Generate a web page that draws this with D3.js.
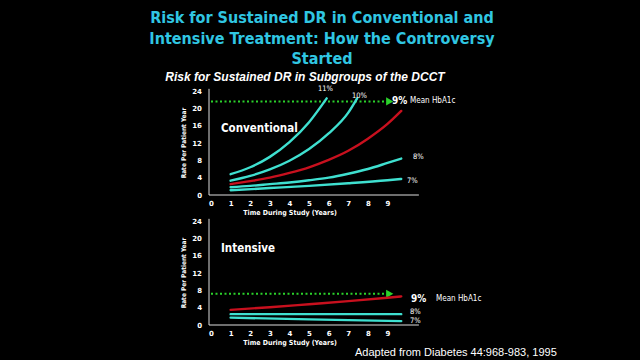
<!DOCTYPE html>
<html>
<head>
<meta charset="utf-8">
<script src="https://cdn.jsdelivr.net/npm/d3@7"></script>
<style>
  body { margin: 0; background: #000; }
  svg { display: block; }
</style>
</head>
<body>
<div id="chart"></div>
<script>
var svgWidth = 640;
var svgHeight = 360;

// tick values
var xTicks = [0, 1, 2, 3, 4, 5, 6, 7, 8, 9];
var yTicks = [0, 4, 8, 12, 16, 20, 24];

// Conventional treatment, [year, rate per patient year]
var conv11 = [[1, 4.8], [2, 6.4], [3, 8.8], [4, 12.2], [5, 16.8], [5.9, 22.3]];
var conv10 = [[1, 3.3], [2, 4.4], [3, 5.9], [4, 7.9], [5, 10.6], [6, 14.2], [7, 19], [7.45, 22.3]];
var conv9 = [[1, 2.5], [2, 3.2], [3, 4], [4, 5.1], [5, 6.4], [6, 8.1], [7, 10.2], [8, 13], [9, 16.4], [9.7, 19.4]];
var conv8 = [[1, 1.8], [2, 2.1], [3, 2.5], [4, 2.9], [5, 3.4], [6, 4], [7, 4.9], [8, 6], [9, 7.4], [9.7, 8.4]];
var conv7 = [[1, 1.1], [3, 1.6], [5, 2.1], [7, 2.7], [9, 3.4], [9.7, 3.7]];
var convMean = 21.6;

// Intensive treatment
var int9 = [[1, 3.5], [3, 4.1], [5, 4.8], [7, 5.5], [9, 6.3], [9.7, 6.6]];
var int8 = [[1, 2.5], [5, 2.5], [9.7, 2.5]];
var int7 = [[1, 1.7], [5, 1.3], [9.7, 0.9]];
var intMean = 7.2;

var cyan = "#3fe0d0";
var red = "#c8101e";
var green = "#2bd12b";

var svg = d3.select("#chart")
  .append("svg")
  .attr("width", svgWidth)
  .attr("height", svgHeight)
  .style("background", "#000");

// Titles
var title = ["Risk for Sustained DR in Conventional and",
  "Intensive Treatment: How the Controversy",
  "Started"];
svg.append("g").selectAll("text")
  .data(title)
  .enter()
  .append("text")
  .attr("x", 322)
  .attr("y", (d, i) => 23 + i * 20.5)
  .attr("text-anchor", "middle")
  .attr("fill", "#30c6e2")
  .style("font-family", "DejaVu Sans Condensed, DejaVu Sans, sans-serif")
  .style("font-weight", "bold")
  .style("font-size", "16px")
  .text(d => d);

svg.append("text")
  .attr("x", 305)
  .attr("y", 81)
  .attr("text-anchor", "middle")
  .attr("fill", "#fff")
  .style("font-family", "Liberation Sans, Arial, sans-serif")
  .style("font-weight", "bold")
  .style("font-style", "italic")
  .style("font-size", "12px")
  .text("Risk for Sustained DR in Subgroups of the DCCT");

var xScale = d3.scaleLinear().domain([0, 9]).range([211, 387.5]);

function drawPanel(cfg) {
  var yScale = d3.scaleLinear().domain([0, 24]).range([cfg.bottom, cfg.bottom - 104]);
  var g = svg.append("g");

  // axes
  var leftAxis = d3.axisLeft(yScale).tickValues(yTicks).tickSize(0).tickPadding(7);
  var bottomAxis = d3.axisBottom(xScale).tickValues(xTicks).tickSize(0).tickPadding(6);

  var ya = g.append("g")
    .attr("transform", `translate(${xScale(0) - 2}, 0)`)
    .call(leftAxis);
  var xa = g.append("g")
    .attr("transform", `translate(0, ${cfg.bottom})`)
    .call(bottomAxis);
  [ya, xa].forEach(function(a) {
    a.select(".domain").remove();
    a.selectAll("text")
      .attr("fill", "#fff")
      .style("font-family", "DejaVu Sans, Verdana, sans-serif")
      .style("font-weight", "bold")
      .style("font-size", "7px");
  });

  g.append("line")
    .attr("x1", xScale(0) - 2).attr("x2", xScale(0) - 2)
    .attr("y1", yScale(24.5)).attr("y2", yScale(0))
    .attr("stroke", "#ddd").attr("stroke-width", 1);
  g.append("line")
    .attr("x1", xScale(0) - 2).attr("x2", xScale(10.6))
    .attr("y1", yScale(0)).attr("y2", yScale(0))
    .attr("stroke", "#ddd").attr("stroke-width", 1);

  g.append("text")
    .attr("transform", `translate(186, ${yScale(12)}) rotate(-90)`)
    .attr("text-anchor", "middle")
    .attr("fill", "#fff")
    .style("font-family", "DejaVu Sans Condensed, DejaVu Sans, sans-serif")
    .style("font-weight", "bold")
    .style("font-size", "6.5px")
    .text("Rate Per Patient Year");

  g.append("text")
    .attr("x", 290)
    .attr("y", cfg.bottom + 20)
    .attr("text-anchor", "middle")
    .attr("fill", "#fff")
    .style("font-family", "DejaVu Sans Condensed, DejaVu Sans, sans-serif")
    .style("font-weight", "bold")
    .style("font-size", "7px")
    .text("Time During Study (Years)");

  g.append("text")
    .attr("x", 221)
    .attr("y", yScale(cfg.nameY))
    .attr("dy", "0.35em")
    .attr("fill", "#fff")
    .style("font-family", "DejaVu Sans Condensed, DejaVu Sans, sans-serif")
    .style("font-size", "11.5px")
    .style("font-weight", "bold")
    .text(cfg.name);

  // mean HbA1c dashed arrow
  g.append("line")
    .attr("x1", xScale(0)).attr("x2", xScale(9) - 3)
    .attr("y1", yScale(cfg.mean)).attr("y2", yScale(cfg.mean))
    .attr("stroke", green).attr("stroke-width", 2)
    .attr("stroke-dasharray", "2,2.5");
  g.append("path")
    .attr("d", d3.symbol(d3.symbolTriangle, 30)())
    .attr("transform", `translate(${xScale(9) + 1}, ${yScale(cfg.mean)}) rotate(90)`)
    .attr("fill", green);

  var line = d3.line()
    .x(d => xScale(d[0]))
    .y(d => yScale(d[1]))
    .curve(d3.curveMonotoneX);

  g.selectAll(".series")
    .data(cfg.series)
    .enter()
    .append("path")
    .attr("d", d => line(d.values))
    .attr("fill", "none")
    .attr("stroke", d => d.color)
    .attr("stroke-width", 2.4)
    .attr("stroke-linecap", "round");

  g.selectAll(".lbl")
    .data(cfg.labels)
    .enter()
    .append("text")
    .attr("x", d => d.x)
    .attr("y", d => d.y)
    .attr("dy", "0.35em")
    .attr("fill", "#fff")
    .style("font-family", "DejaVu Sans Condensed, DejaVu Sans, sans-serif")
    .style("font-weight", d => d.bold ? "bold" : "normal")
    .style("font-size", d => d.size + "px")
    .text(d => d.text);
}

drawPanel({
  bottom: 195,
  name: "Conventional",
  nameY: 15.5,
  mean: convMean,
  series: [
    { values: conv11, color: cyan },
    { values: conv10, color: cyan },
    { values: conv9, color: red },
    { values: conv8, color: cyan },
    { values: conv7, color: cyan }
  ],
  labels: [
    { text: "11%", x: 318, y: 88, size: 7.5 },
    { text: "10%", x: 352, y: 95, size: 7.5 },
    { text: "9%", x: 392, y: 100, size: 10, bold: true },
    { text: "Mean HbA1c", x: 410, y: 100, size: 8 },
    { text: "8%", x: 413, y: 156, size: 7.5 },
    { text: "7%", x: 407, y: 180, size: 7.5 }
  ]
});

drawPanel({
  bottom: 325,
  name: "Intensive",
  nameY: 17.8,
  mean: intMean,
  series: [
    { values: int9, color: red },
    { values: int8, color: cyan },
    { values: int7, color: cyan }
  ],
  labels: [
    { text: "9%", x: 411, y: 298, size: 10, bold: true },
    { text: "Mean HbA1c", x: 436, y: 298, size: 8 },
    { text: "8%", x: 410, y: 311, size: 7.5 },
    { text: "7%", x: 410, y: 320, size: 7.5 }
  ]
});

svg.append("text")
  .attr("x", 355)
  .attr("y", 356)
  .attr("fill", "#fff")
  .style("font-family", "Liberation Sans, Arial, sans-serif")
  .style("font-size", "11px")
  .text("Adapted from Diabetes 44:968-983, 1995");
</script>
</body>
</html>
